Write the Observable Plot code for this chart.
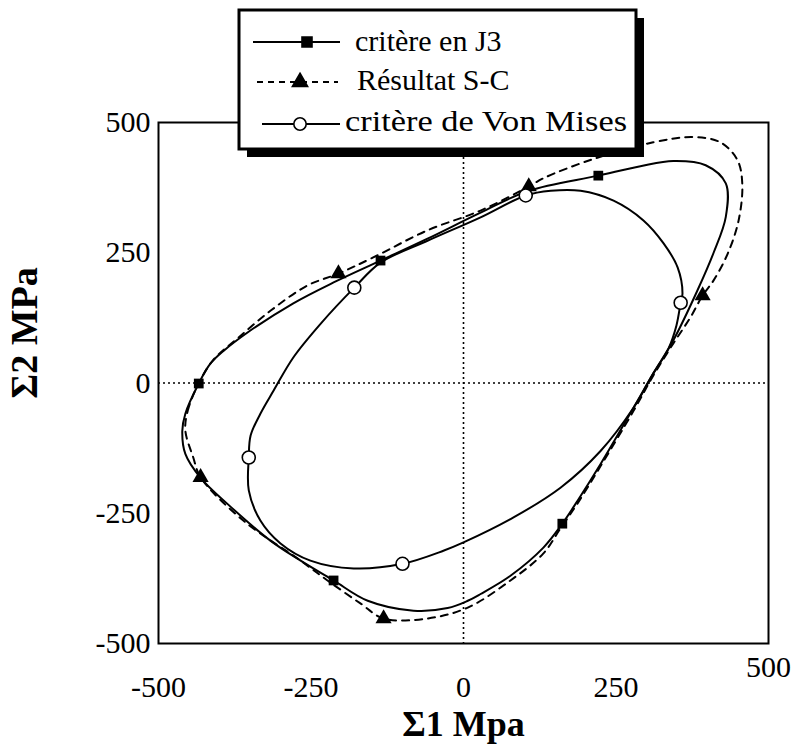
<!DOCTYPE html>
<html>
<head>
<meta charset="utf-8">
<script src="https://cdn.jsdelivr.net/npm/d3@7"></script>
<script src="https://cdn.jsdelivr.net/npm/@observablehq/plot@0.6"></script>
<style>
  html, body { margin: 0; padding: 0; background: white; }
  #chart { position: relative; width: 800px; height: 746px; }
</style>
</head>
<body>
<div id="chart"></div>
<script>
// ---- data (Σ1, Σ2 in MPa) ----
const seriesLabels = ["critère en J3", "Résultat S-C", "critère de Von Mises"];
const xTicks = [-500, -250, 0, 250, 500];
const yTicks = [-500, -250, 0, 250, 500];

// Critère en J3 (solid curve)
const j3Curve = [[-434,-1],[-415,37],[-393,62],[-354,97],[-279,153],[-213,193],[-136,235],[-59,277],[28,327],[107,369],[221,398],[290,416],[344,426],[397,418],[430,383],[430,319],[410,250],[384,179],[344,82],[311,18],[279,-47],[225,-155],[187,-226],[162,-270],[131,-316],[77,-370],[28,-405],[7,-418],[-26,-432],[-82,-437],[-157,-418],[-213,-379],[-267,-341],[-316,-303],[-387,-232],[-431,-182],[-456,-136],[-461,-92],[-456,-59]];
const j3Marks = [[-434,-1],[-136,235],[221,398],[162,-270],[-213,-379]];

// Résultat S-C (dashed curve)
const scCurve = [[-456,-91],[-452,-53],[-436,-5],[-411,43],[-370,86],[-316,139],[-256,187],[-205,210],[-148,241],[-59,293],[28,331],[107,377],[131,393],[208,428],[311,462],[377,472],[421,462],[449,428],[457,383],[451,312],[433,248],[410,197],[392,168],[372,126],[344,76],[311,14],[279,-53],[225,-159],[187,-231],[159,-279],[131,-327],[77,-379],[7,-431],[-59,-452],[-131,-452],[-169,-423],[-223,-379],[-267,-341],[-361,-264],[-431,-181],[-443,-143]];
const scMarks = [[-205,210],[107,377],[392,168],[-131,-452],[-431,-181]];

// Critère de Von Mises (solid curve, open circles)
const vmCurve = [[-352,-143],[-349,-101],[-333,-59],[-311,-14],[-279,49],[-234,114],[-179,183],[-136,231],[-59,273],[28,318],[102,360],[143,369],[192,369],[246,350],[295,312],[328,268],[351,222],[359,172],[356,154],[349,110],[336,66],[311,18],[279,-47],[225,-130],[159,-201],[82,-258],[0,-306],[-33,-322],[-100,-347],[-180,-356],[-251,-341],[-300,-308],[-333,-264],[-352,-206]];
const vmMarks = [[-352,-143],[-179,183],[102,360],[356,154],[-100,-347]];

const pts = a => a.map(([x, y]) => ({x, y}));
const serif = "'Liberation Serif', 'Times New Roman', Times, serif";
const fmt = d => String(d);

const plot = Plot.plot({
  width: 800,
  height: 746,
  marginLeft: 158,
  marginRight: 32,
  marginTop: 122,
  marginBottom: 103,
  x: {domain: [-500, 500], label: null},
  y: {domain: [-500, 500], label: null},
  style: {fontFamily: serif, fontSize: "30px", color: "black", background: "white"},
  marks: [
    Plot.ruleX([0], {stroke: "black", strokeWidth: 1.6, strokeDasharray: "2,3"}),
    Plot.ruleY([0], {stroke: "black", strokeWidth: 1.6, strokeDasharray: "2,3"}),
    Plot.line(pts(scCurve), {x: "x", y: "y", curve: "catmull-rom-closed", stroke: "black", strokeWidth: 2, strokeDasharray: "7,6"}),
    Plot.line(pts(j3Curve), {x: "x", y: "y", curve: "catmull-rom-closed", stroke: "black", strokeWidth: 2}),
    Plot.line(pts(vmCurve), {x: "x", y: "y", curve: "catmull-rom-closed", stroke: "black", strokeWidth: 2}),
    Plot.dot(pts(j3Marks), {x: "x", y: "y", symbol: "square", fill: "black", r: 5.5}),
    Plot.dot(pts(scMarks), {x: "x", y: "y", symbol: "triangle", fill: "black", r: 6}),
    Plot.dot(pts(vmMarks), {x: "x", y: "y", symbol: "circle", fill: "white", stroke: "black", strokeWidth: 1.6, r: 6.5}),
    Plot.frame({stroke: "black", strokeWidth: 2}),
    Plot.axisX({ticks: xTicks.slice(0, 4), tickFormat: fmt, tickSize: 0, tickPadding: 32, fontSize: 30}),
    Plot.axisX({ticks: xTicks.slice(4), tickFormat: fmt, tickSize: 0, tickPadding: 12, fontSize: 30}),
    Plot.axisY({ticks: yTicks, tickFormat: fmt, tickSize: 0, tickPadding: 8, fontSize: 30}),
    Plot.text(["Σ1 Mpa"], {frameAnchor: "bottom", textAnchor: "middle", lineAnchor: "middle", dy: 81, fontWeight: "bold", fontSize: 36}),
    Plot.text(["Σ2 MPa"], {frameAnchor: "left", textAnchor: "middle", lineAnchor: "middle", dx: -134, dy: -50, rotate: -90, fontWeight: "bold", fontSize: 38})
  ]
});

document.getElementById("chart").appendChild(plot);

// ---- legend box with drop shadow ----
const svg = d3.select(plot);
const lg = svg.append("g");
lg.append("rect").attr("x", 247).attr("y", 18).attr("width", 397).attr("height", 139).attr("fill", "black");
lg.append("rect").attr("x", 239).attr("y", 10).attr("width", 397).attr("height", 139)
  .attr("fill", "white").attr("stroke", "black").attr("stroke-width", 3);

const rows = [
  {ly: 42, ty: 51, tx: 355, x1: 253, x2: 340, mx: 307, dash: null, sym: d3.symbolSquare, fill: "black", len: null},
  {ly: 82, ty: 90, tx: 357, x1: 257, x2: 338, mx: 300, dash: "6,5", sym: d3.symbolTriangle, fill: "black", len: null},
  {ly: 124, ty: 131, tx: 345, x1: 262, x2: 340, mx: 300, dash: null, sym: d3.symbolCircle, fill: "white", len: 282}
];
rows.forEach((r, i) => {
  lg.append("line").attr("x1", r.x1).attr("x2", r.x2).attr("y1", r.ly).attr("y2", r.ly)
    .attr("stroke", "black").attr("stroke-width", 2).attr("stroke-dasharray", r.dash);
  lg.append("path").attr("d", d3.symbol(r.sym, i === 2 ? 120 : 100)())
    .attr("transform", `translate(${r.mx},${r.ly})`)
    .attr("fill", r.fill).attr("stroke", "black").attr("stroke-width", 1.6);
  const t = lg.append("text").attr("x", r.tx).attr("y", r.ty)
    .attr("text-anchor", "start")
    .style("font-family", serif).style("font-size", "30px").style("fill", "black")
    .text(seriesLabels[i]);
  if (r.len) t.attr("textLength", r.len).attr("lengthAdjust", "spacingAndGlyphs");
});
</script>
</body>
</html>
